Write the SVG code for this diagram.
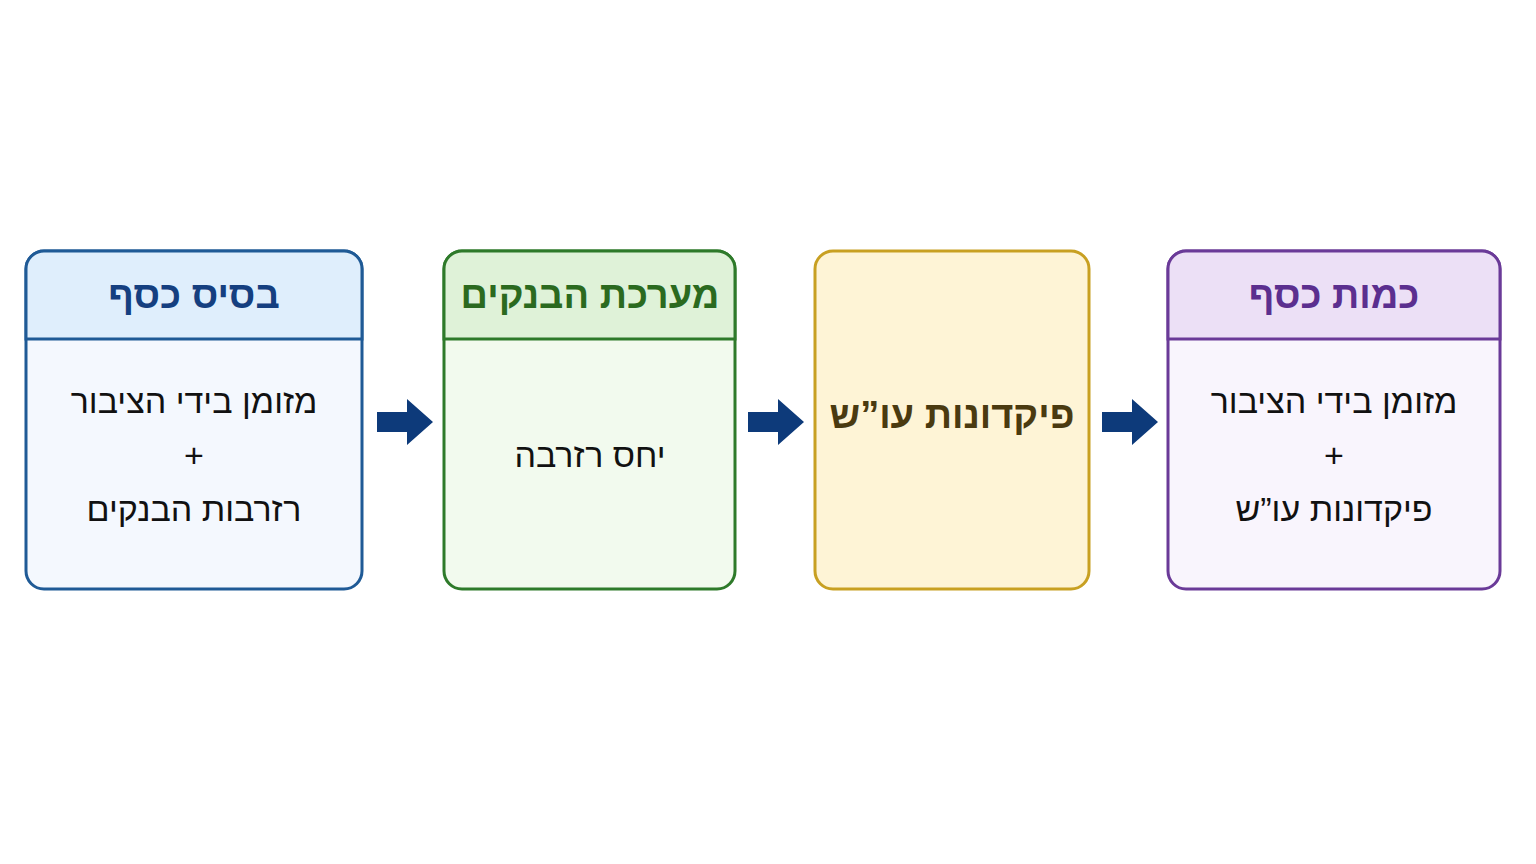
<svg xmlns="http://www.w3.org/2000/svg" width="1536" height="864" viewBox="0 0 1536 864">
<style>
text{font-family:"Liberation Sans","DejaVu Sans",sans-serif;text-anchor:middle;direction:rtl}
.h{font-size:38px;font-weight:bold}
.b{font-size:34px;fill:#111}
.box{stroke-width:3}
</style>
<defs><path id="arr" d="M0,-10 H30 V-23 L56,0 L30,23 V10 H0 Z" fill="#0d3a7a"/></defs>
<rect width="1536" height="864" fill="#fff"/>
<g id="n1">
<rect x="26" y="251" width="336" height="338" rx="18" fill="#f4f8fe" stroke="#1f5a96" class="box"/>
<path d="M26,339 V269 A18,18 0 0 1 44,251 H344 A18,18 0 0 1 362,269 V339 Z" fill="#dfeefc" stroke="#1f5a96" class="box"/>
<text x="194" y="308" class="h" fill="#153f80">בסיס כסף</text>
<text x="194" y="413" class="b">מזומן בידי הציבור</text>
<text x="194" y="467" class="b">+</text>
<text x="194" y="521" class="b">רזרבות הבנקים</text>
</g>
<g id="n2">
<rect x="444" y="251" width="291" height="338" rx="18" fill="#f2faee" stroke="#2e7a2a" class="box"/>
<path d="M444,339 V269 A18,18 0 0 1 462,251 H717 A18,18 0 0 1 735,269 V339 Z" fill="#dff2d8" stroke="#2e7a2a" class="box"/>
<text x="590" y="308" class="h" fill="#2b6a1f">מערכת הבנקים</text>
<text x="590" y="467" class="b">יחס רזרבה</text>
</g>
<g id="n3">
<rect x="815" y="251" width="274" height="338" rx="18" fill="#fef4d6" stroke="#c8a022" class="box"/>
<text x="952" y="428" class="h" fill="#4a3a10">פיקדונות עו”ש</text>
</g>
<g id="n4">
<rect x="1168" y="251" width="332" height="338" rx="18" fill="#f9f5fd" stroke="#6a3a98" class="box"/>
<path d="M1168,339 V269 A18,18 0 0 1 1186,251 H1482 A18,18 0 0 1 1500,269 V339 Z" fill="#ece0f6" stroke="#6a3a98" class="box"/>
<text x="1334" y="308" class="h" fill="#5b2f8f">כמות כסף</text>
<text x="1334" y="413" class="b">מזומן בידי הציבור</text>
<text x="1334" y="467" class="b">+</text>
<text x="1334" y="521" class="b">פיקדונות עו”ש</text>
</g>
<g id="connectors">
<use href="#arr" x="377" y="422"/>
<use href="#arr" x="748" y="422"/>
<use href="#arr" x="1102" y="422"/>
</g>
</svg>
